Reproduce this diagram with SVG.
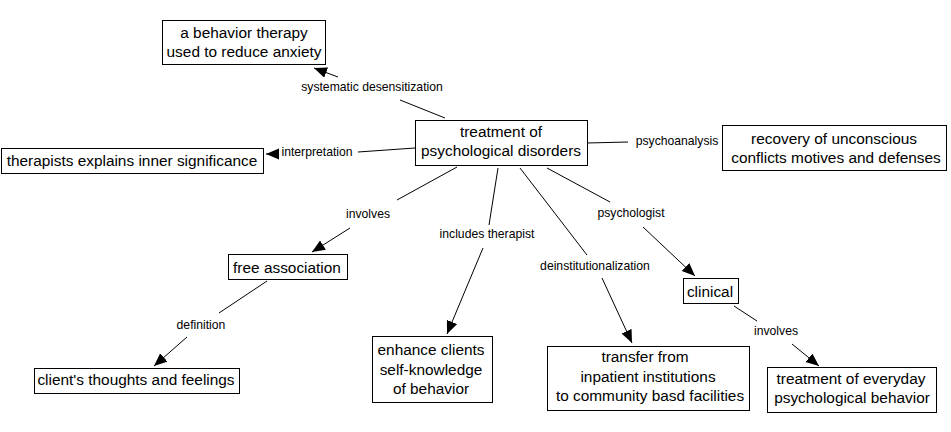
<svg xmlns="http://www.w3.org/2000/svg" width="951" height="432" viewBox="0 0 951 432">
<style>
.box{fill:#fff;stroke:#000;stroke-width:1}
.nt{font-family:"Liberation Sans",Arial,sans-serif;font-size:15.4px;fill:#000;text-anchor:middle}
.lt{font-family:"Liberation Sans",Arial,sans-serif;font-size:12.2px;fill:#000;text-anchor:middle}
.ln{stroke:#000;stroke-width:1;fill:none}
.ar{marker-end:url(#ah)}
</style>
<defs>
<marker id="ah" markerUnits="userSpaceOnUse" markerWidth="14" markerHeight="12" refX="13" refY="5.5" orient="auto">
<path d="M0,0 L13,5.5 L0,11 Z" fill="#000"/>
</marker>
</defs>
<rect width="951" height="432" fill="#fff"/>
<g id="connectors">
<line class="ln" x1="445" y1="118" x2="400" y2="100"/>
<line class="ln ar" x1="338" y1="77" x2="314" y2="68"/>
<text class="lt" x="372" y="91">systematic desensitization</text>
<line class="ln" x1="415" y1="148" x2="358" y2="152"/>
<line class="ln ar" x1="278" y1="154" x2="266" y2="154"/>
<text class="lt" x="317" y="156">interpretation</text>
<line class="ln" x1="587" y1="143" x2="628" y2="142"/>
<text class="lt" x="677" y="145">psychoanalysis</text>
<line class="ln" x1="457" y1="167" x2="397" y2="200"/>
<line class="ln ar" x1="350" y1="228" x2="312" y2="252"/>
<text class="lt" x="368" y="218">involves</text>
<line class="ln" x1="498" y1="168" x2="489" y2="225"/>
<line class="ln ar" x1="483" y1="248" x2="447" y2="334"/>
<text class="lt" x="487" y="238">includes therapist</text>
<line class="ln" x1="520" y1="168" x2="587" y2="255"/>
<line class="ln ar" x1="602" y1="278" x2="632" y2="343"/>
<text class="lt" x="595" y="270">deinstitutionalization</text>
<line class="ln" x1="547" y1="168" x2="610" y2="202"/>
<line class="ln ar" x1="643" y1="227" x2="695" y2="276"/>
<text class="lt" x="631" y="217">psychologist</text>
<line class="ln" x1="267" y1="281" x2="219" y2="313"/>
<line class="ln ar" x1="187" y1="337" x2="154" y2="366"/>
<text class="lt" x="201" y="329">definition</text>
<line class="ln" x1="734" y1="306" x2="757" y2="321"/>
<line class="ln ar" x1="792" y1="344" x2="819" y2="366"/>
<text class="lt" x="776" y="335">involves</text>
</g>
<g id="n_behavior">
<rect class="box" x="162.5" y="20.5" width="163" height="44"/>
<text class="nt" x="244" y="37.5">a behavior therapy</text>
<text class="nt" x="244" y="57">used to reduce anxiety</text>
</g>
<g id="n_therapists">
<rect class="box" x="1.5" y="148.5" width="262" height="25"/>
<text class="nt" x="132" y="166">therapists explains inner significance</text>
</g>
<g id="n_treatment">
<rect class="box" x="415.5" y="120.5" width="172" height="45"/>
<text class="nt" x="501" y="137">treatment of</text>
<text class="nt" x="501" y="156">psychological disorders</text>
</g>
<g id="n_recovery">
<rect class="box" x="722.5" y="125.5" width="224" height="45"/>
<text class="nt" x="834" y="144">recovery of unconscious</text>
<text class="nt" x="836" y="163">conflicts motives and defenses</text>
</g>
<g id="n_free">
<rect class="box" x="228.5" y="254.5" width="119" height="25"/>
<text class="nt" x="287" y="273">free association</text>
</g>
<g id="n_clients">
<rect class="box" x="34.5" y="368.5" width="205" height="25"/>
<text class="nt" x="136" y="385">client's thoughts and feelings</text>
</g>
<g id="n_enhance">
<rect class="box" x="372.5" y="336.5" width="120" height="66"/>
<text class="nt" x="431" y="355">enhance clients</text>
<text class="nt" x="431" y="374.5">self-knowledge</text>
<text class="nt" x="431" y="394">of behavior</text>
</g>
<g id="n_transfer">
<rect class="box" x="547.5" y="346.5" width="202" height="64"/>
<text class="nt" x="645" y="362">transfer from</text>
<text class="nt" x="648" y="382">inpatient institutions</text>
<text class="nt" x="650" y="401">to community basd facilities</text>
</g>
<g id="n_clinical">
<rect class="box" x="683.5" y="278.5" width="55" height="25"/>
<text class="nt" x="710" y="297">clinical</text>
</g>
<g id="n_everyday">
<rect class="box" x="767.5" y="367.5" width="169" height="45"/>
<text class="nt" x="851" y="384">treatment of everyday</text>
<text class="nt" x="852" y="403">psychological behavior</text>
</g>
</svg>
